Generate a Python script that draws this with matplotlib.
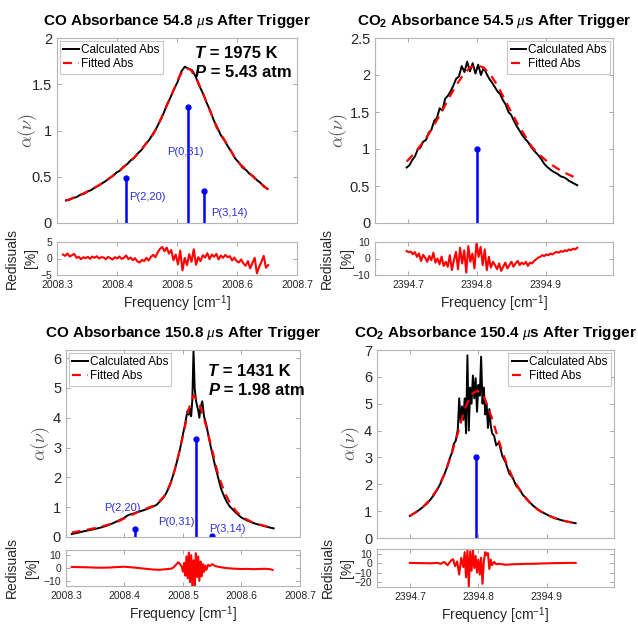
import numpy as np
import matplotlib.pyplot as plt

plt.rcParams['font.family'] = ['Liberation Sans', 'DejaVu Sans']
plt.rcParams['mathtext.fontset'] = 'custom'
plt.rcParams['mathtext.rm'] = 'Liberation Sans'
plt.rcParams['mathtext.bf'] = 'Liberation Sans:bold'
plt.rcParams['mathtext.it'] = 'Liberation Serif:italic'

# ---- CO, 54.8 us ----
co1_calc = [0.245, 0.252, 0.270, 0.281, 0.306, 0.315, 0.341, 0.356, 0.384, 0.401,
            0.428, 0.452, 0.483, 0.507, 0.545, 0.566, 0.609, 0.636, 0.679, 0.707,
            0.755, 0.790, 0.850, 0.891, 0.955, 1.015, 1.095, 1.175, 1.275, 1.355,
            1.445, 1.525, 1.635, 1.690, 1.668, 1.652, 1.585, 1.485, 1.405, 1.305,
            1.220, 1.115, 1.035, 0.950, 0.893, 0.826, 0.768, 0.697, 0.655, 0.600,
            0.574, 0.530, 0.505, 0.465, 0.435, 0.392, 0.368]
co1_calc_x = np.linspace(2008.315, 2008.651, len(co1_calc))
co1_fit_x = [2008.315, 2008.338, 2008.361, 2008.383, 2008.405, 2008.427, 2008.444,
             2008.461, 2008.472, 2008.483, 2008.494, 2008.503, 2008.510, 2008.516,
             2008.523, 2008.533, 2008.544, 2008.555, 2008.566, 2008.583, 2008.599,
             2008.616, 2008.633, 2008.652]
co1_fit = [0.240, 0.301, 0.373, 0.462, 0.570, 0.695, 0.820, 0.964, 1.108, 1.269,
           1.430, 1.570, 1.650, 1.675, 1.655, 1.556, 1.390, 1.215, 1.035, 0.857,
           0.677, 0.570, 0.462, 0.362]
co1_res = [1.2, 0.8, 1.5, 0.6, 1.0, 1.4, 0.2, 0.5, -0.2, 0.4, 0.1,
           0.5, -0.1, 0.6, 0.2, 0.7, 0.0, 0.4, 0.3, -0.2, 0.5,
           0.1, -0.3, 0.4, 0.0, 0.6, -0.1, 0.2, 0.9, -0.2, 0.3,
           -0.5, 0.1, -0.9, -1.2, -0.4, -0.8, 0.2, -0.6, 0.5, 1.1,
           0.4, 1.8, 2.9, 3.5, 2.2, 3.3, 1.5, 2.6, -0.5, 1.2,
           -1.8, 2.4, -3.6, 0.2, -2.0, 1.3, -1.0, 2.8, -1.9, 0.4,
           -0.8, 1.0, 0.3, 1.6, -0.2, 1.2, 0.5, 1.4, -0.3, 0.9,
           0.2, 1.1, 0.4, 0.7, -0.6, 0.3, -0.8, -1.2, -0.3, -1.5,
           -2.2, -0.8, -3.0, -1.4, 0.2, -4.5, -2.5, -1.0, 0.8, -2.8, -2.0]
co1_res_x = np.linspace(2008.31, 2008.652, len(co1_res))
co1_line_pos = [2008.4145, 2008.518, 2008.545]
co1_line_str = [0.49, 1.25, 0.35]
co1_line_lbl = ['P(2,20)', 'P(0,31)', 'P(3,14)']
co1_lbl_xy = [(2008.421, 0.28), (2008.483, 0.77), (2008.557, 0.11)]

# ---- CO2, 54.5 us ----
co2a_calc = [0.75, 0.78, 0.85, 0.90, 0.99, 1.02, 1.10, 1.12, 1.22, 1.26,
             1.38, 1.42, 1.55, 1.52, 1.68, 1.72, 1.78, 1.86, 1.95, 1.98,
             2.12, 2.04, 2.18, 2.05, 2.16, 2.02, 2.14, 2.00, 2.10, 2.02,
             1.95, 1.90, 1.84, 1.78, 1.74, 1.66, 1.60, 1.50, 1.46, 1.38,
             1.31, 1.25, 1.19, 1.14, 1.10, 1.04, 0.99, 0.95, 0.91, 0.86,
             0.80, 0.76, 0.73, 0.70, 0.68, 0.66, 0.63, 0.62, 0.60, 0.57,
             0.55, 0.53, 0.51]
co2a_calc_x = np.linspace(2394.698, 2394.946, len(co2a_calc))
co2a_fit_x = [2394.698, 2394.71, 2394.72, 2394.73, 2394.74, 2394.75, 2394.76,
              2394.77, 2394.78, 2394.79, 2394.80, 2394.81, 2394.82, 2394.83,
              2394.84, 2394.85, 2394.86, 2394.87, 2394.88, 2394.89, 2394.90,
              2394.91, 2394.92, 2394.93, 2394.944]
co2a_fit = [0.83, 0.95, 1.07, 1.20, 1.36, 1.52, 1.70, 1.86, 2.00, 2.10, 2.135,
            2.10, 2.00, 1.86, 1.68, 1.50, 1.33, 1.18, 1.03, 0.93, 0.85, 0.78,
            0.72, 0.67, 0.61]
co2a_res = [4.5, 3.8, 4.2, 2.5, 3.9, 1.0, 3.0, -1.5, 2.2, 0.5,
            -2.0, 1.5, -1.0, 3.5, -2.5, 0.0, -3.5, 1.2, -4.5, -2.0,
            -5.0, 2.0, -7.0, -1.0, 4.0, -6.5, 6.5, -3.0, 5.0, -8.5,
            7.5, -2.0, 3.0, -6.0, 9.5, 1.0, 7.0, -4.0, 5.5, -7.0,
            1.0, -5.5, -2.0, -4.0, -6.5, -3.0, -7.5, -5.0, -2.5, -6.0,
            -4.0, -2.0, -5.0, -3.0, -1.5, -4.0, -2.5, -3.5, -2.0, -4.5,
            -2.5, -3.0, -1.5, -0.5, 0.5, 1.0, 2.0, 1.5, 2.5, 2.0,
            3.0, 2.5, 3.5, 4.0, 3.5, 4.5, 4.0, 5.0, 4.5, 5.5,
            5.0, 6.0, 5.5, 6.5]
co2a_res_x = np.linspace(2394.698, 2394.946, len(co2a_res))
co2a_line_pos = [2394.800]
co2a_line_str = [1.0]

# ---- CO, 150.8 us ----
co3_calc_x = [2008.310, 2008.320, 2008.330, 2008.340, 2008.350, 2008.360, 2008.370,
              2008.380, 2008.390, 2008.400, 2008.405, 2008.410, 2008.415, 2008.420,
              2008.430, 2008.440, 2008.450, 2008.455, 2008.460, 2008.465, 2008.470,
              2008.475, 2008.480, 2008.485, 2008.490, 2008.495, 2008.500, 2008.503,
              2008.506, 2008.508, 2008.510, 2008.512, 2008.514, 2008.516, 2008.518,
              2008.520, 2008.522, 2008.524, 2008.526, 2008.528, 2008.530, 2008.533,
              2008.536, 2008.540, 2008.545, 2008.550, 2008.555, 2008.560, 2008.565,
              2008.570, 2008.575, 2008.580, 2008.590, 2008.600, 2008.610, 2008.620,
              2008.630, 2008.640, 2008.650, 2008.655]
co3_calc = [0.10, 0.14, 0.19, 0.23, 0.27, 0.32, 0.38, 0.46, 0.55, 0.65,
            0.72, 0.76, 0.78, 0.82, 0.88, 0.95, 1.03, 1.08, 1.18, 1.28,
            1.42, 1.62, 1.88, 2.18, 2.55, 2.95, 3.45, 3.72, 4.05, 4.25,
            4.10, 4.30, 4.05, 4.60, 6.27, 5.00, 4.60, 4.40, 4.25, 4.00,
            4.35, 4.55, 4.05, 3.75, 3.25, 2.80, 2.38, 2.00, 1.62, 1.38,
            1.17, 1.02, 0.82, 0.65, 0.55, 0.47, 0.41, 0.36, 0.31, 0.29]
co3_fit_x = [2008.310, 2008.33, 2008.35, 2008.37, 2008.39, 2008.41, 2008.43,
             2008.45, 2008.46, 2008.47, 2008.48, 2008.49, 2008.50, 2008.51,
             2008.518, 2008.525, 2008.53, 2008.54, 2008.55, 2008.56, 2008.57,
             2008.58, 2008.59, 2008.60, 2008.62, 2008.64, 2008.655]
co3_fit = [0.15, 0.22, 0.30, 0.40, 0.53, 0.72, 0.90, 1.05, 1.20, 1.42, 1.85,
           2.55, 3.40, 4.30, 4.75, 4.55, 4.35, 3.70, 2.90, 2.10, 1.55, 1.15,
           0.88, 0.68, 0.48, 0.37, 0.30]
co3_res_x = [2008.31, 2008.32, 2008.33, 2008.34, 2008.35, 2008.36, 2008.37, 2008.38,
             2008.39, 2008.40, 2008.41, 2008.42, 2008.43, 2008.44, 2008.45, 2008.46,
             2008.47, 2008.48, 2008.484, 2008.488, 2008.492, 2008.495, 2008.498,
             2008.500, 2008.502, 2008.504, 2008.506, 2008.508, 2008.510, 2008.512,
             2008.514, 2008.516, 2008.518, 2008.520, 2008.522, 2008.524, 2008.526,
             2008.528, 2008.530, 2008.532, 2008.534, 2008.536, 2008.538, 2008.540,
             2008.543, 2008.546, 2008.55, 2008.555, 2008.56, 2008.57, 2008.58,
             2008.59, 2008.60, 2008.61, 2008.62, 2008.63, 2008.64, 2008.65, 2008.653]
co3_res = [0.8, 0.7, 0.6, 0.5, 0.3, 0.2, 0.3, 0.5, 0.8, 1.0, 0.6, 0.2, -0.3, -0.8,
           -1.2, -1.4, -1.0, -0.5, 0.5, 2.5, 4.5, 3.0, 1.0, -3.0, 4.0, -6.0, 9.0,
           -8.0, 12.0, -11.0, 10.0, -14.0, 6.0, -13.5, 11.5, -7.0, 9.0, -10.0, 5.0,
           -6.5, 3.0, -3.0, 2.0, -1.5, 2.5, 1.5, 3.0, 1.5, 1.0, 0.2, -0.3, -0.6,
           -0.8, -0.7, -0.9, -0.8, -0.6, -1.0, -1.5]
co3_line_pos = [2008.418, 2008.522, 2008.549]
co3_line_str = [0.27, 3.3, 0.05]
co3_line_lbl = ['P(2,20)', 'P(0,31)', 'P(3,14)']
co3_lbl_xy = [(2008.396, 0.97), (2008.488, 0.50), (2008.576, 0.27)]

# ---- CO2, 150.4 us ----
co2b_calc_x = [2394.700, 2394.705, 2394.710, 2394.715, 2394.720, 2394.725, 2394.730,
               2394.735, 2394.740, 2394.745, 2394.750, 2394.755, 2394.758, 2394.761,
               2394.764, 2394.767, 2394.770, 2394.772, 2394.774, 2394.776, 2394.778,
               2394.780, 2394.782, 2394.784, 2394.786, 2394.788, 2394.790, 2394.792,
               2394.794, 2394.796, 2394.798, 2394.800, 2394.802, 2394.804, 2394.806,
               2394.808, 2394.810, 2394.812, 2394.814, 2394.816, 2394.818, 2394.820,
               2394.823, 2394.826, 2394.830, 2394.835, 2394.840, 2394.845, 2394.850,
               2394.855, 2394.860, 2394.865, 2394.870, 2394.875, 2394.880, 2394.890,
               2394.900, 2394.910, 2394.920, 2394.930, 2394.942]
co2b_calc = [0.82, 0.90, 0.98, 1.07, 1.18, 1.28, 1.43, 1.60, 1.80, 2.05,
             2.35, 2.68, 2.95, 3.15, 3.50, 3.62, 4.05, 5.20, 4.30, 4.90,
             4.40, 5.20, 3.90, 6.80, 4.00, 5.60, 5.00, 6.05, 5.20, 5.95,
             4.70, 5.70, 5.30, 6.75, 5.00, 5.60, 4.60, 5.00, 4.10, 4.80,
             4.20, 3.90, 3.80, 3.45, 3.55, 3.05, 2.80, 2.40, 2.25, 1.95,
             1.82, 1.60, 1.48, 1.33, 1.20, 1.01, 0.87, 0.76, 0.67, 0.61,
             0.55]
co2b_fit_x = [2394.70, 2394.71, 2394.72, 2394.73, 2394.74, 2394.75, 2394.76,
              2394.77, 2394.78, 2394.79, 2394.798, 2394.805, 2394.81, 2394.82,
              2394.83, 2394.84, 2394.85, 2394.86, 2394.87, 2394.88, 2394.89,
              2394.90, 2394.91, 2394.92, 2394.93, 2394.942]
co2b_fit = [0.82, 0.98, 1.18, 1.45, 1.82, 2.35, 3.05, 3.90, 4.80, 5.35, 5.48,
            5.40, 5.15, 4.45, 3.60, 2.85, 2.25, 1.80, 1.45, 1.18, 1.00, 0.86,
            0.75, 0.67, 0.61, 0.55]
co2b_res_x = [2394.70, 2394.71, 2394.72, 2394.73, 2394.74, 2394.745, 2394.75,
              2394.755, 2394.76, 2394.763, 2394.766, 2394.769, 2394.772, 2394.775,
              2394.778, 2394.780, 2394.782, 2394.784, 2394.786, 2394.788, 2394.790,
              2394.792, 2394.794, 2394.796, 2394.798, 2394.800, 2394.802, 2394.804,
              2394.806, 2394.808, 2394.810, 2394.812, 2394.814, 2394.816, 2394.818,
              2394.820, 2394.823, 2394.826, 2394.83, 2394.84, 2394.85, 2394.86,
              2394.87, 2394.88, 2394.89, 2394.90, 2394.91, 2394.92, 2394.93, 2394.942]
co2b_res = [0.5, 0.3, 0.2, 0.0, 0.5, -0.5, 1.5, -2.0, 3.0, 4.5, -3.0, 2.0, -12.0,
            6.0, -4.0, 12.0, -15.0, 14.0, -25.0, 13.0, -8.0, 14.0, -5.0, 8.0,
            -10.0, 4.0, -12.0, 6.0, -22.0, 2.0, 12.0, 9.0, 11.0, -6.0, 4.0, -2.0,
            1.5, -1.0, -0.5, -1.5, -1.0, -0.8, -0.5, -0.5, -0.2, 0.0, 0.2, 0.3,
            0.5, 0.5]
co2b_line_pos = [2394.796]
co2b_line_str = [3.0]

temps = [1975, 1431]
press = [5.43, 1.98]

CO_XLIM = (2008.3, 2008.7)
CO_XTICKS = [2008.3, 2008.4, 2008.5, 2008.6, 2008.7]
CO2_XLIM = (2394.652, 2394.998)
CO2_XTICKS = [2394.7, 2394.8, 2394.9]

LINE_BLUE = '#0000ff'
TEXT_BLUE = '#2f2fd6'


def style(ax, size):
    ax.tick_params(direction='in', length=3, width=0.6, colors='#9a9a9a',
                   labelcolor='#262626', labelsize=size, top=True, right=True)
    for s in ax.spines.values():
        s.set_color('#b4b4b4')
        s.set_linewidth(0.8)


def main_panel(rect, title, xlim, xticks, ylim, yticks, calc_x, calc, fit_x, fit,
               pos, strength, leg_loc, ylab_x):
    ax = fig.add_axes(rect)
    ax.plot(calc_x, calc, color='black', lw=1.4, label='Calculated Abs')
    ax.plot(fit_x, fit, color='red', lw=1.6, ls=(0, (4, 3)), label='Fitted Abs')
    ax.vlines(pos, 0, strength, color=LINE_BLUE, lw=1.8)
    ax.plot(pos, strength, 'o', color=LINE_BLUE, ms=3.5)
    ax.set_xlim(*xlim)
    ax.set_ylim(*ylim)
    ax.set_xticks(xticks)
    ax.set_yticks(yticks)
    ax.set_yticklabels([f'{v:g}' for v in yticks])
    style(ax, 10.5)
    ax.tick_params(labelbottom=False)
    ax.set_title(title, fontsize=11, fontweight='bold', pad=9)
    # label coords give the right-hand edge of the rotated label
    ax.set_ylabel(r'$\alpha(\nu)$', fontsize=13, color='#555555', math_fontfamily='cm')
    ax.yaxis.set_label_coords(ylab_x, 0.5)
    leg = ax.legend(loc=leg_loc, fontsize=8.5, handlelength=1.3, handletextpad=0.15,
                    labelspacing=0.15, borderpad=0.3, borderaxespad=0.25,
                    fancybox=False, framealpha=1, edgecolor='#c8c8c8')
    leg.get_frame().set_linewidth(0.8)
    return ax


def resid_panel(rect, xlim, xticks, ylim, yticks, res_x, res, ylab_x):
    ax = fig.add_axes(rect)
    ax.plot(res_x, res, color='red', lw=1.5)
    ax.set_xlim(*xlim)
    ax.set_ylim(*ylim)
    ax.set_xticks(xticks)
    ax.set_xticklabels([f'{v:.1f}' for v in xticks])
    ax.set_yticks(yticks)
    style(ax, 7.5)
    ax.set_xlabel('Frequency [cm$^{-1}$]', fontsize=10, labelpad=2.5, color='#262626')
    ax.set_ylabel('Redisuals\n[%]', fontsize=10, color='#262626', linespacing=1.5)
    ax.yaxis.set_label_coords(ylab_x, 0.5)
    return ax


def tp_label(ax, x, y, temp, pres):
    t1 = ax.text(x, y, 'T', transform=ax.transAxes, fontsize=12,
                 fontweight='bold', fontstyle='italic', va='baseline')
    ax.annotate(f' = {temp} K', xy=(1, 0), xycoords=t1, fontsize=12,
                fontweight='bold', va='bottom')
    p1 = ax.text(x, y - 0.105, 'P', transform=ax.transAxes, fontsize=12,
                 fontweight='bold', fontstyle='italic', va='baseline')
    ax.annotate(f' = {pres:.2f} atm', xy=(1, 0), xycoords=p1, fontsize=12,
                fontweight='bold', va='bottom')


fig = plt.figure(figsize=(6.38, 6.25), dpi=100)

ax1 = main_panel([0.0893, 0.6432, 0.3762, 0.296],
                 r'CO Absorbance 54.8 $\mu$s After Trigger',
                 CO_XLIM, CO_XTICKS, (0, 2), [0, 0.5, 1, 1.5, 2],
                 co1_calc_x, co1_calc, co1_fit_x, co1_fit,
                 co1_line_pos, co1_line_str, 'upper left', -0.075)
for lbl, (lx, ly) in zip(co1_line_lbl, co1_lbl_xy):
    ax1.text(lx, ly, lbl, color=TEXT_BLUE, fontsize=8, ha='left', va='center')
tp_label(ax1, 0.575, 0.892, temps[0], press[0])
resid_panel([0.0893, 0.56, 0.3762, 0.0528], CO_XLIM, CO_XTICKS, (-5, 5), [-5, 0, 5],
            co1_res_x, co1_res, -0.077)

ax2 = main_panel([0.5878, 0.6432, 0.3730, 0.296],
                 r'CO$_\mathbf{2}$ Absorbance 54.5 $\mu$s After Trigger',
                 CO2_XLIM, CO2_XTICKS, (0, 2.5), [0, 0.5, 1, 1.5, 2, 2.5],
                 co2a_calc_x, co2a_calc, co2a_fit_x, co2a_fit,
                 co2a_line_pos, co2a_line_str, 'upper right', -0.105)
resid_panel([0.5878, 0.56, 0.3730, 0.0528], CO2_XLIM, CO2_XTICKS, (-10, 10),
            [-10, 0, 10], co2a_res_x, co2a_res, -0.09)

ax3 = main_panel([0.1034, 0.1408, 0.3668, 0.2992],
                 r'CO Absorbance 150.8 $\mu$s After Trigger',
                 CO_XLIM, CO_XTICKS, (0, 6.27), [0, 1, 2, 3, 4, 5, 6],
                 co3_calc_x, co3_calc, co3_fit_x, co3_fit,
                 co3_line_pos, co3_line_str, 'upper left', -0.058)
for lbl, (lx, ly) in zip(co3_line_lbl, co3_lbl_xy):
    ax3.text(lx, ly, lbl, color=TEXT_BLUE, fontsize=8, ha='center', va='center')
tp_label(ax3, 0.608, 0.862, temps[1], press[1])
resid_panel([0.1034, 0.0624, 0.3668, 0.0576], CO_XLIM, CO_XTICKS, (-14, 14),
            [-10, 0, 10], co3_res_x, co3_res, -0.117)

ax4 = main_panel([0.5909, 0.1392, 0.3715, 0.3008],
                 r'CO$_\mathbf{2}$ Absorbance 150.4 $\mu$s After Trigger',
                 CO2_XLIM, CO2_XTICKS, (0, 7), [0, 1, 2, 3, 4, 5, 6, 7],
                 co2b_calc_x, co2b_calc, co2b_fit_x, co2b_fit,
                 co2b_line_pos, co2b_line_str, 'upper right', -0.063)
resid_panel([0.5909, 0.0608, 0.3715, 0.0608], CO2_XLIM, CO2_XTICKS, (-25.4, 15.4),
            [-20, -10, 0, 10], co2b_res_x, co2b_res, -0.095)

fig.savefig('out.png', dpi=100)
